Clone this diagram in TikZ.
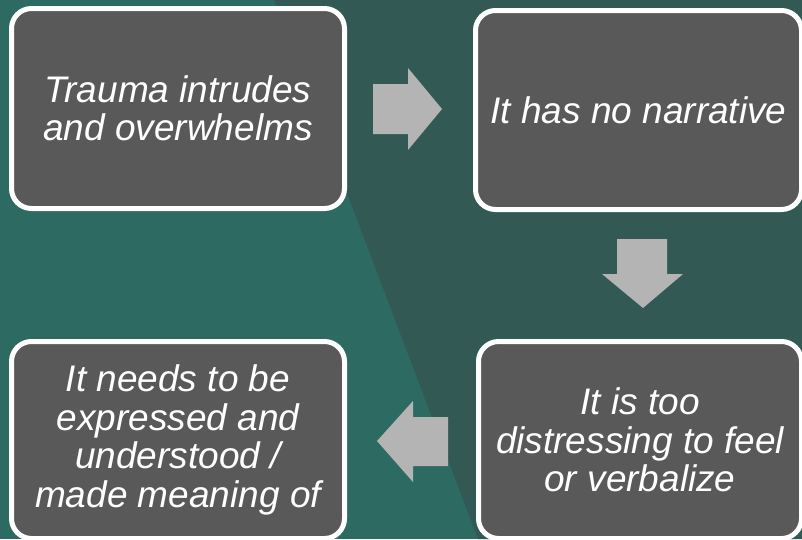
\documentclass[tikz,border=0pt]{standalone}
\usepackage{fontspec}
\setmainfont{Liberation Sans}
\definecolor{bgteal}{HTML}{2D6A62}
\definecolor{bgdark}{HTML}{335955}
\definecolor{boxgray}{HTML}{595959}
\definecolor{arrowgray}{HTML}{B4B4B4}
\tikzset{
  stepbox/.style={draw=white, line width=5pt, fill=boxgray, rounded corners=20pt,
    text=white, align=center, inner sep=0pt,
    font=\fontsize{37}{38.5}\selectfont\itshape},
  arrowshape/.style={fill=arrowgray, draw=none}
}
\begin{document}
\begin{tikzpicture}[x=1pt,y=-1pt]
\useasboundingbox (0,0) rectangle (802,539);
\clip (0,0) rectangle (802,539);
\fill[bgteal] (0,0) rectangle (802,539);
\fill[bgdark] (274,0) -- (802,0) -- (802,539) -- (478,539) -- cycle;

\node[stepbox, minimum width=333pt, minimum height=200pt] (b1) at (178,108.5)
  {Trauma intrudes\\and overwhelms};
\node[stepbox, minimum width=326pt, minimum height=199pt] (b2) at (638.5,110)
  {It has no narrative};
\node[stepbox, minimum width=323pt, minimum height=197pt] (b4) at (640,440)
  {It is too\\distressing to feel\\or verbalize};
\node[stepbox, minimum width=333pt, minimum height=197pt] (b3) at (178,440)
  {It needs to be\\expressed and\\understood /\\made meaning of};

% right arrow
\fill[arrowshape] (373,84) -- (408,84) -- (408,68) -- (442,109) -- (408,150) -- (408,134) -- (373,134) -- cycle;
% down arrow
\fill[arrowshape] (617,239) -- (667,239) -- (667,274) -- (683,274) -- (643,308) -- (602,274) -- (617,274) -- cycle;
% left arrow
\fill[arrowshape] (448,417) -- (413,417) -- (413,401) -- (377,441) -- (413,482) -- (413,466) -- (448,466) -- cycle;
\end{tikzpicture}
\end{document}
